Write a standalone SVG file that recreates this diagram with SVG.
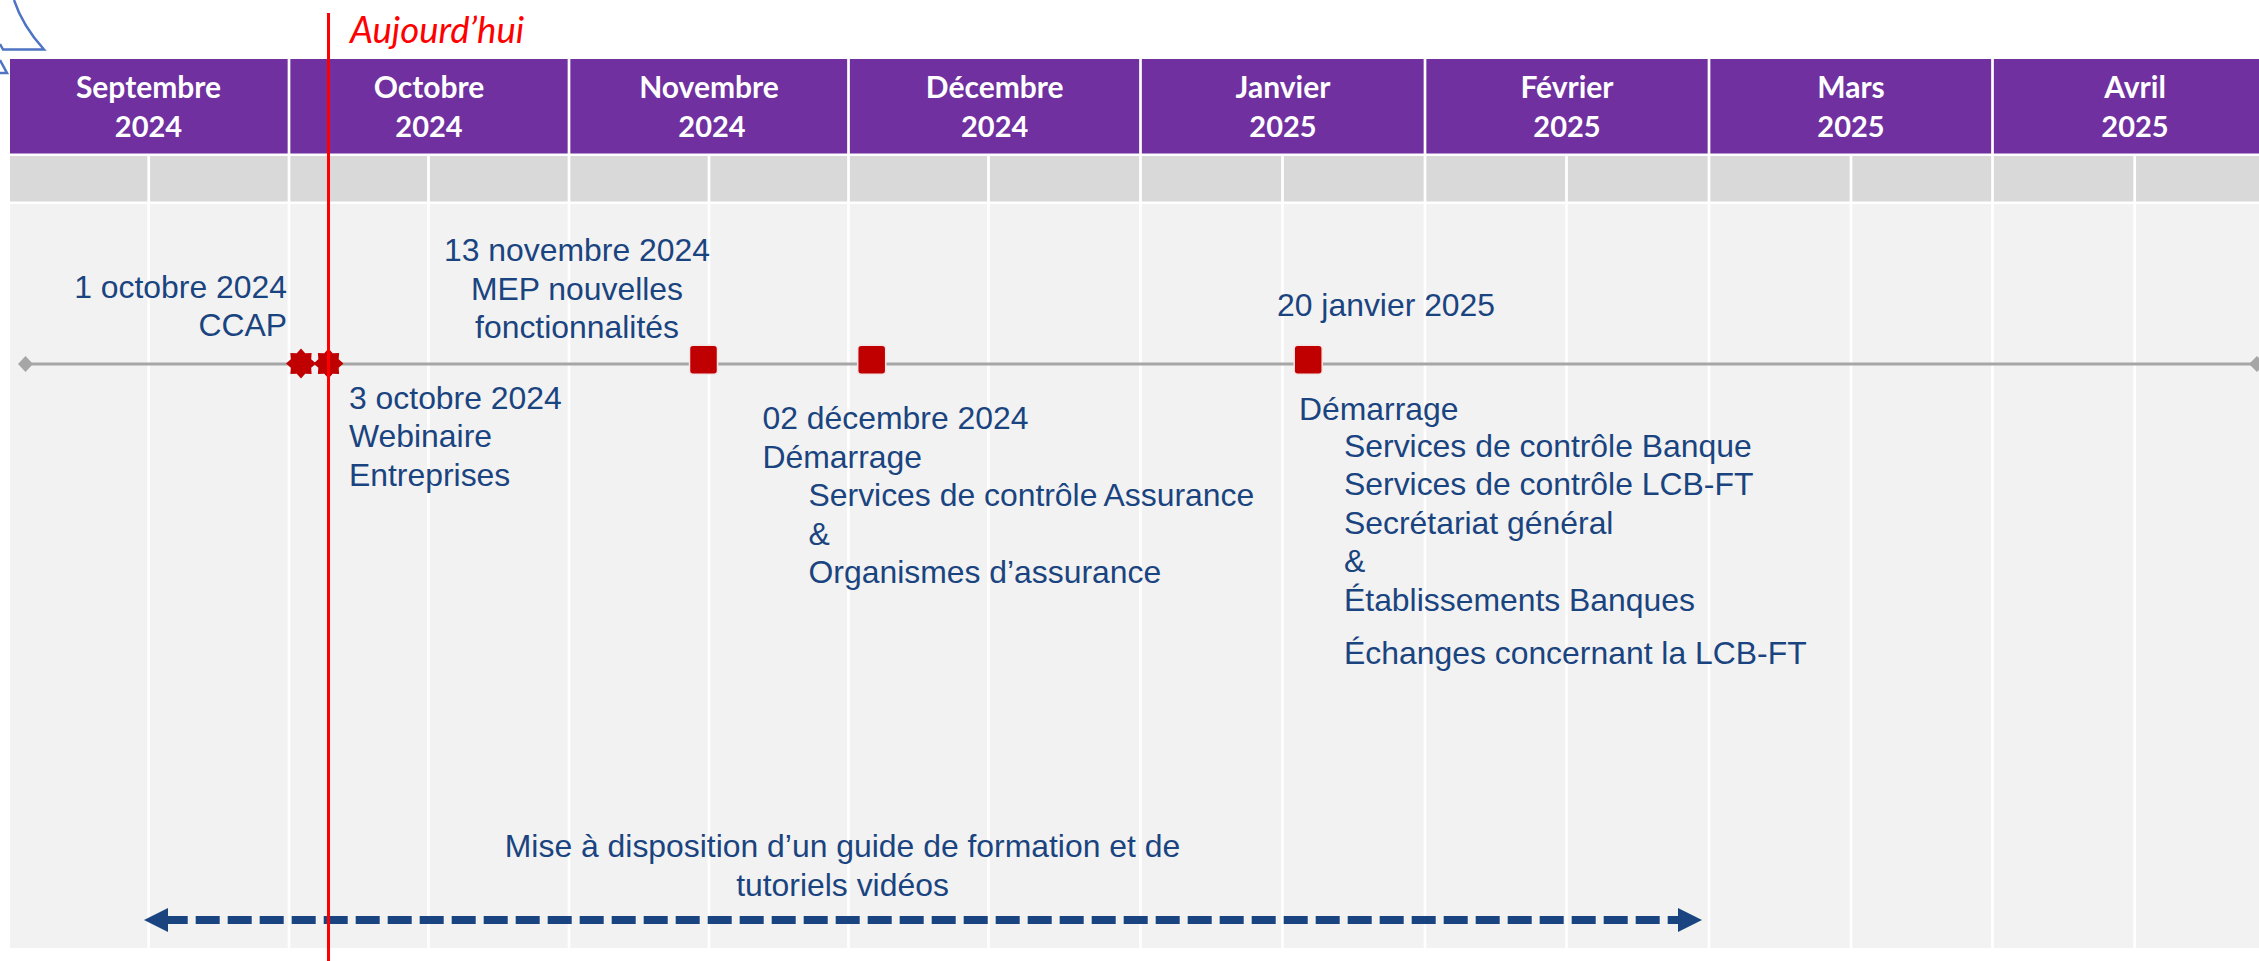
<svg xmlns="http://www.w3.org/2000/svg" width="2259" height="961" viewBox="0 0 2259 961">
<style>
.h{fill:#7030a0}.g{fill:#d9d9d9}.l{fill:#f2f2f2}
.d{stroke:#fff;stroke-width:2.7;fill:none}
.mt{font:bold 30px Lato,"Liberation Sans",sans-serif;fill:#fff;text-anchor:middle}
.yr{font-size:29px}
.t{font:31.9px "Liberation Sans",Arial,sans-serif;fill:#1a4480}
.m{text-anchor:middle}.e{text-anchor:end}
</style>
<defs>
<polygon id="star" points="0,-15 4.2,-10.2 10.6,-10.6 10.2,-4.2 15,0 10.2,4.2 10.6,10.6 4.2,10.2 0,15 -4.2,10.2 -10.6,10.6 -10.2,4.2 -15,0 -10.2,-4.2 -10.6,-10.6 -4.2,-10.2" fill="#c00000"/>
<rect id="sq" x="-14" y="-14.5" width="28" height="29" rx="3.5" fill="#c00000" stroke="#f2e6e6" stroke-width="1.5"/>
</defs>
<g id="deco" fill="none" stroke="#4f74c4" stroke-width="2.5">
<path d="M14,0C20,18 30,34 44,49.500H3L0,44"/>
<path d="M0,60L7,73H0"/>
</g>
<g id="background">
<rect class="h" x="10" y="59" width="2249" height="94.500"/>
<rect class="g" x="10" y="156" width="2249" height="45.500"/>
<rect class="l" x="10" y="204" width="2249" height="744"/>
</g>
<g id="grid">
<path class="d" d="M289,59V948M569,59V948M848.500,59V948M1140.500,59V948M1425,59V948M1709,59V948M1992.500,59V948M148.700,155V948M428.500,155V948M709,155V948M988.500,155V948M1282.500,155V948M1566.500,155V948M1851,155V948M2134.700,155V948"/>
</g>
<g id="months">
<text class="mt" x="148.500" y="98">Septembre</text><text class="mt yr" x="148.500" y="137">2024</text>
<text class="mt" x="429" y="98">Octobre</text><text class="mt yr" x="429" y="137">2024</text>
<text class="mt" x="709" y="98">Novembre</text><text class="mt yr" x="712" y="137">2024</text>
<text class="mt" x="994.700" y="98">Décembre</text><text class="mt yr" x="994.700" y="137">2024</text>
<text class="mt" x="1283" y="98">Janvier</text><text class="mt yr" x="1283" y="137">2025</text>
<text class="mt" x="1567" y="98">Février</text><text class="mt yr" x="1567" y="137">2025</text>
<text class="mt" x="1851" y="98">Mars</text><text class="mt yr" x="1851" y="137">2025</text>
<text class="mt" x="2135" y="98">Avril</text><text class="mt yr" x="2135" y="137">2025</text>
</g>
<g id="connectors">
<path id="timeline" d="M25,364H2257" stroke="#a6a6a6" stroke-width="3" fill="none"/>
<polygon points="18,364 25.500,356 33,364 25.500,372" fill="#a6a6a6"/>
<polygon points="2249,364 2257,356 2265,364 2257,372" fill="#a6a6a6"/>
<path id="guide-arrow" d="M163.700,920H1680" stroke="#1a4480" stroke-width="8" stroke-dasharray="24 8" fill="none"/>
<polygon points="144,920 168,908 168,932" fill="#1a4480"/>
<polygon points="1702,920 1678,908 1678,932" fill="#1a4480"/>
</g>
<g id="m-ccap"><use href="#star" x="301" y="363.500"/>
<text class="t e" x="287" y="297.700">1 octobre 2024</text><text class="t e" x="287" y="336">CCAP</text></g>
<g id="m-webinaire"><use href="#star" x="328.500" y="363.500"/>
<text class="t" x="349" y="409">3 octobre 2024</text><text class="t" x="349" y="447">Webinaire</text><text class="t" x="349" y="486">Entreprises</text></g>
<g id="m-mep"><use href="#sq" x="703.500" y="359.700"/>
<text class="t m" x="577" y="261">13 novembre 2024</text><text class="t m" x="577" y="300">MEP nouvelles</text><text class="t m" x="577" y="338">fonctionnalités</text></g>
<g id="m-decembre"><use href="#sq" x="871.700" y="359.700"/>
<text class="t" x="762.500" y="428.700">02 décembre 2024</text><text class="t" x="762.500" y="467.500">Démarrage</text><text class="t" x="808.500" y="505.700">Services de contrôle <tspan dx="-1">Assurance</tspan></text><text class="t" x="808.500" y="545">&amp;</text><text class="t" x="808.500" y="582.500">Organismes d’assurance</text></g>
<g id="m-janvier"><use href="#sq" x="1308.200" y="359.800"/>
<text class="t" x="1277" y="315.700">20 janvier 2025</text>
<text class="t" x="1299" y="419.500">Démarrage</text><text class="t" x="1344" y="456.700">Services de contrôle Banque</text><text class="t" x="1344" y="495">Services de contrôle LCB-FT</text><text class="t" x="1344" y="534">Secrétariat général</text><text class="t" x="1344" y="571.700">&amp;</text><text class="t" x="1344" y="610.700">Établissements Banques</text><text class="t" x="1344" y="664">Échanges concernant la LCB-FT</text></g>
<g id="m-guide"><text class="t m" x="842.500" y="857.300">Mise à disposition d’un guide de formation et de</text><text class="t m" x="842.500" y="895.700">tutoriels vidéos</text></g>
<g id="today"><path d="M328.500,13V961" stroke="#f00" stroke-width="3" fill="none"/>
<text x="350" y="42.500" font-family="Lato,sans-serif" font-style="italic" font-size="36.5" fill="#f00">Aujourd’hui</text></g>
</svg>
